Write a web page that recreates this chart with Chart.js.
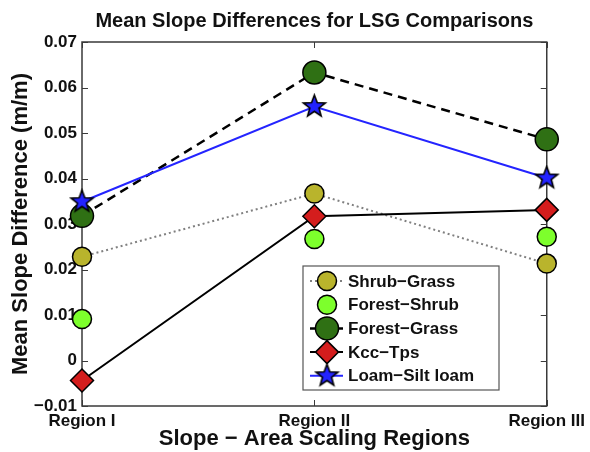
<!DOCTYPE html>
<html>
<head>
<meta charset="utf-8">
<script src="https://cdn.jsdelivr.net/npm/chart.js@4.4.0/dist/chart.umd.min.js"></script>
<style>
    html, body { margin: 0; padding: 0; background: #fff; }
</style>
</head>
<body>
<canvas id="myChart" width="590" height="452"></canvas>
<script>
// values
const regions = ['Region I', 'Region II', 'Region III'];
const shrubGrass = [0.0228, 0.0367, 0.0213];
const forestShrub = [0.0091, 0.0267, 0.0272];
const forestGrass = [0.0318, 0.0633, 0.0486];
const kccTps = [-0.0044, 0.0317, 0.0331];
const loamSiltLoam = [0.0349, 0.0558, 0.0401];
const yMin = -0.01;
const yMax = 0.07;
const yStep = 0.01;

const FONT = "'Liberation Sans', Arial, Helvetica, sans-serif";

// filled five point star (Chart.js has no filled star style)
function makeStar(r) {
    const c = document.createElement('canvas');
    const s = Math.ceil(r * 2 + 4);
    c.width = s;
    c.height = s;
    const g = c.getContext('2d');
    g.beginPath();
    for (let i = 0; i < 10; i++) {
        const a = -Math.PI / 2 + i * Math.PI / 5;
        const rr = i % 2 ? r * 0.42 : r;
        g.lineTo(s / 2 + rr * Math.cos(a), s / 2 + rr * Math.sin(a));
    }
    g.closePath();
    g.fillStyle = '#2323ff';
    g.fill();
    g.lineWidth = 1.6;
    g.strokeStyle = '#000';
    g.stroke();
    return c;
}
const star = makeStar(11.5);

function drawMarker(ctx, style, radius, fill, x, y) {
    if (style instanceof HTMLCanvasElement) {
        ctx.drawImage(style, x - style.width / 2, y - style.height / 2);
        return;
    }
    ctx.beginPath();
    if (style === 'rectRot') {
        ctx.moveTo(x - radius, y);
        ctx.lineTo(x, y - radius);
        ctx.lineTo(x + radius, y);
        ctx.lineTo(x, y + radius);
        ctx.closePath();
    } else {
        ctx.arc(x, y, radius, 0, Math.PI * 2);
    }
    ctx.fillStyle = fill;
    ctx.fill();
    ctx.lineWidth = 1.5;
    ctx.strokeStyle = '#000';
    ctx.stroke();
}

// box around the plot, inward ticks, title
const framePlugin = {
    id: 'frame',
    beforeDatasetsDraw(chart) {
        const ctx = chart.ctx;
        const ca = chart.chartArea;
        const y = chart.scales.y;
        const x = chart.scales.x;
        ctx.save();
        ctx.strokeStyle = '#3a3a3a';
        ctx.lineWidth = 1.5;
        ctx.strokeRect(ca.left, ca.top, ca.right - ca.left, ca.bottom - ca.top);
        ctx.lineWidth = 1;
        y.ticks.forEach((t, i) => {
            const py = Math.round(y.getPixelForTick(i)) + 0.5;
            ctx.beginPath();
            ctx.moveTo(ca.left, py);
            ctx.lineTo(ca.left + 6, py);
            ctx.moveTo(ca.right, py);
            ctx.lineTo(ca.right - 6, py);
            ctx.stroke();
        });
        x.ticks.forEach((t, i) => {
            const px = Math.round(x.getPixelForTick(i)) + 0.5;
            ctx.beginPath();
            ctx.moveTo(px, ca.bottom);
            ctx.lineTo(px, ca.bottom - 6);
            ctx.moveTo(px, ca.top);
            ctx.lineTo(px, ca.top + 6);
            ctx.stroke();
        });
        ctx.fillStyle = '#111';
        ctx.font = 'bold 20px ' + FONT;
        ctx.textAlign = 'center';
        ctx.textBaseline = 'middle';
        ctx.fillText('Mean Slope Differences for LSG Comparisons', (ca.left + ca.right) / 2, 21);
        ctx.restore();
    },
    afterDatasetsDraw(chart) {
        // legend inside the plot, lower right
        const ctx = chart.ctx;
        const ca = chart.chartArea;
        const bx = ca.left + 221, by = ca.top + 224, bw = 196, bh = 124;
        ctx.save();
        ctx.fillStyle = '#fff';
        ctx.fillRect(bx, by, bw, bh);
        ctx.strokeStyle = '#555';
        ctx.lineWidth = 1.2;
        ctx.strokeRect(bx, by, bw, bh);
        chart.data.datasets.forEach((ds, i) => {
            const cy = by + 15 + i * 23.7;
            if (ds.showLine !== false) {
                ctx.beginPath();
                ctx.strokeStyle = ds.borderColor;
                ctx.lineWidth = ds.borderWidth;
                ctx.setLineDash(ds.label === 'Shrub\u2212Grass' ? ds.borderDash : []);
                ctx.moveTo(bx + 7, cy);
                ctx.lineTo(bx + 40, cy);
                ctx.stroke();
                ctx.setLineDash([]);
            }
            drawMarker(ctx, ds.pointStyle, ds.pointRadius, ds.pointBackgroundColor, bx + 24, cy);
            ctx.fillStyle = '#111';
            ctx.font = 'bold 17px ' + FONT;
            ctx.textAlign = 'left';
            ctx.textBaseline = 'middle';
            ctx.fillText(ds.label, bx + 45, cy + 1);
        });
        ctx.restore();
    }
};

const ctx = document.getElementById('myChart').getContext('2d');
new Chart(ctx, {
    type: 'line',
    data: {
        labels: regions,
        datasets: [{
            label: 'Shrub\u2212Grass',
            data: shrubGrass,
            borderColor: '#808080',
            borderWidth: 2,
            borderDash: [2, 3],
            pointStyle: 'circle',
            pointRadius: 9.5,
            pointBackgroundColor: '#b9b42c',
            order: 5
        }, {
            label: 'Forest\u2212Shrub',
            data: forestShrub,
            showLine: false,
            borderColor: '#000',
            borderWidth: 0,
            pointStyle: 'circle',
            pointRadius: 9.5,
            pointBackgroundColor: '#7dff2c',
            order: 4
        }, {
            label: 'Forest\u2212Grass',
            data: forestGrass,
            borderColor: '#000',
            borderWidth: 2.5,
            borderDash: [9, 6],
            pointStyle: 'circle',
            pointRadius: 11.5,
            pointBackgroundColor: '#2f7014',
            order: 3
        }, {
            label: 'Kcc\u2212Tps',
            data: kccTps,
            borderColor: '#000',
            borderWidth: 2,
            pointStyle: 'rectRot',
            pointRadius: 11.5,
            pointBackgroundColor: '#d41d1d',
            order: 2
        }, {
            label: 'Loam\u2212Silt loam',
            data: loamSiltLoam,
            borderColor: '#2424ff',
            borderWidth: 2,
            pointStyle: star,
            pointRadius: 11,
            pointBackgroundColor: '#2323ff',
            order: 1
        }].map(ds => Object.assign({
            pointBorderColor: '#000',
            pointBorderWidth: 1.5,
            pointHoverRadius: ds.pointRadius,
            tension: 0,
            fill: false,
            clip: false
        }, ds))
    },
    options: {
        responsive: false,
        animation: false,
        layout: { padding: { top: 42, right: 43, left: 0, bottom: 0 } },
        plugins: {
            legend: { display: false },
            title: { display: false },
            tooltip: { enabled: false }
        },
        scales: {
            x: {
                offset: false,
                grid: { display: false, drawTicks: false },
                border: { display: false },
                ticks: {
                    color: '#111',
                    font: { family: FONT, size: 17, weight: 'bold' },
                    padding: 5,
                    maxRotation: 0,
                    autoSkip: false
                },
                title: {
                    display: true,
                    text: 'Slope \u2212 Area Scaling Regions',
                    color: '#111',
                    font: { family: FONT, size: 22, weight: 'bold' },
                    padding: 0
                },
                afterFit: scale => { scale.height = 46; }
            },
            y: {
                min: yMin,
                max: yMax,
                grid: { display: false, drawTicks: false },
                border: { display: false },
                ticks: {
                    stepSize: yStep,
                    color: '#111',
                    font: { family: FONT, size: 17, weight: 'bold' },
                    padding: 5,
                    callback: v => Math.abs(v) < 1e-9 ? '0' : v.toFixed(2).replace('-', '\u2212')
                },
                title: {
                    display: true,
                    text: 'Mean Slope Difference (m/m)',
                    color: '#111',
                    font: { family: FONT, size: 22, weight: 'bold' },
                    padding: { top: 8, bottom: 0 }
                },
                afterFit: scale => { scale.width = 82; }
            }
        }
    },
    plugins: [framePlugin]
});
</script>
</body>
</html>
